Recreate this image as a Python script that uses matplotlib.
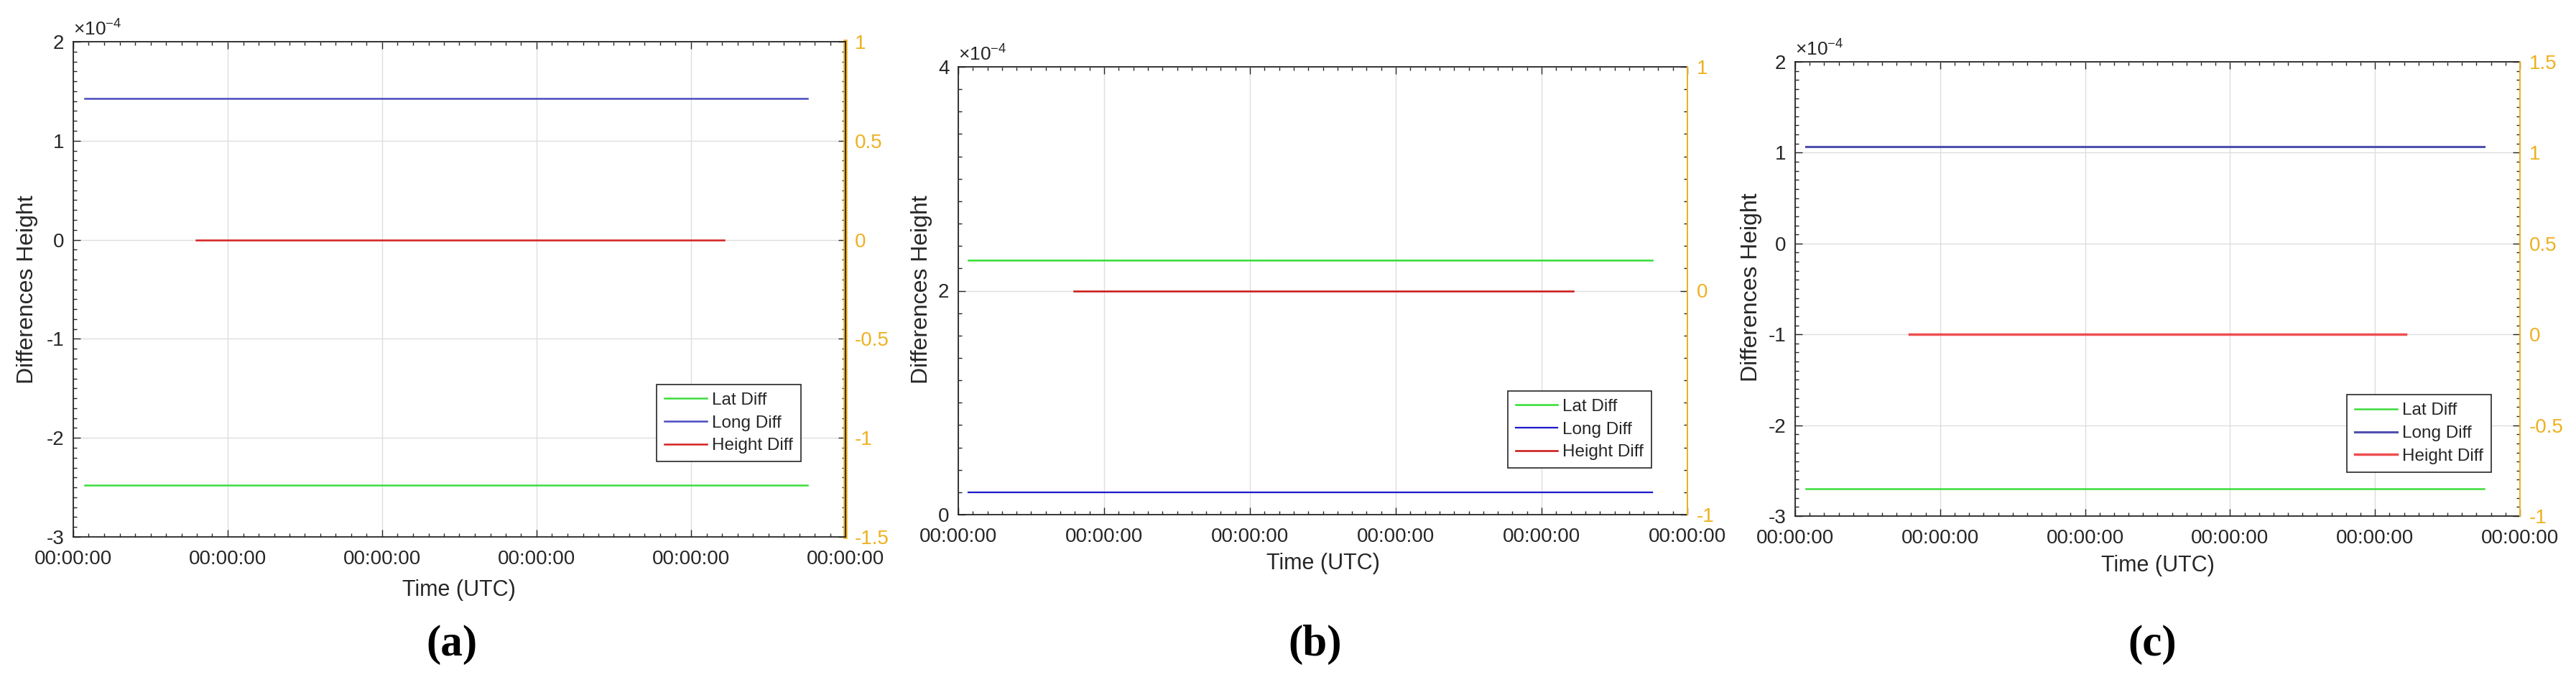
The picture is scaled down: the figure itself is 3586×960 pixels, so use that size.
import numpy as np
import matplotlib
matplotlib.use("Agg")
import matplotlib.pyplot as plt
from matplotlib.ticker import FixedLocator, MultipleLocator, FuncFormatter

plt.rcParams['font.family'] = ['Liberation Sans', 'DejaVu Sans']
plt.rcParams['mathtext.fontset'] = 'custom'
plt.rcParams['mathtext.rm'] = 'Liberation Sans'
plt.rcParams['mathtext.it'] = 'Liberation Sans'

# ---------------- data ----------------
time_ticks = [0, 1, 2, 3, 4, 5]
time_labels = ['00:00:00'] * 6
series_names = ['Lat Diff', 'Long Diff', 'Height Diff']
panel_labels = ['(a)', '(b)', '(c)']

# panel a
a_lat_x = [0.075, 4.754]; a_lat_y = [-2.48e-4, -2.48e-4]
a_long_x = [0.075, 4.754]; a_long_y = [1.43e-4, 1.43e-4]
a_hgt_x = [0.797, 4.213]; a_hgt_y = [0.0, 0.0]
# panel b
b_lat_x = [0.069, 4.758]; b_lat_y = [2.27e-4, 2.27e-4]
b_long_x = [0.069, 4.758]; b_long_y = [0.2e-4, 0.2e-4]
b_hgt_x = [0.791, 4.216]; b_hgt_y = [0.0, 0.0]
# panel c
c_lat_x = [0.073, 4.752]; c_lat_y = [-2.7e-4, -2.7e-4]
c_long_x = [0.073, 4.752]; c_long_y = [1.065e-4, 1.065e-4]
c_hgt_x = [0.789, 4.211]; c_hgt_y = [0.0, 0.0]

left_ticks_a = [-3, -2, -1, 0, 1, 2]
right_ticks_a = [-1.5, -1, -0.5, 0, 0.5, 1]
left_ticks_b = [0, 2, 4]
right_ticks_b = [-1, 0, 1]
left_ticks_c = [-3, -2, -1, 0, 1, 2]
right_ticks_c = [-1, -0.5, 0, 0.5, 1, 1.5]

# ---------------- layout (pixels) ----------------
W, H = 3587, 960
fig = plt.figure(figsize=(W / 100, H / 100), dpi=100)

panels = [
    dict(box=(102, 1177, 58, 747), lat=(a_lat_x, a_lat_y), lon=(a_long_x, a_long_y),
         hgt=(a_hgt_x, a_hgt_y), lt=left_ticks_a, rt=right_ticks_a, lminor=0.1,
         cols=('#3ddc3d', '#4a4ac0', '#d42020'), lws=(1.8, 1.8, 1.8), leg=(0.942, 0.152),
         ylab=(38, 403), xlab=(639, 821), plab=(629, 897), bold_right=True),
    dict(box=(1334, 2349, 93, 716), lat=(b_lat_x, b_lat_y), lon=(b_long_x, b_long_y),
         hgt=(b_hgt_x, b_hgt_y), lt=left_ticks_b, rt=right_ticks_b, lminor=0.2,
         cols=('#33dd33', '#1a1ac8', '#cc1515'), lws=(1.8, 1.6, 1.8), leg=(0.951, 0.104),
         ylab=(1283, 403), xlab=(1842, 784), plab=(1831, 897), bold_right=False),
    dict(box=(2499, 3508, 86, 718), lat=(c_lat_x, c_lat_y), lon=(c_long_x, c_long_y),
         hgt=(c_hgt_x, c_hgt_y), lt=left_ticks_c, rt=right_ticks_c, lminor=0.1,
         cols=('#3ddc3d', '#5050b0', '#ee4e4e'), lws=(1.8, 2.2, 2.5), leg=(0.960, 0.097),
         ylab=(2438, 400), xlab=(3004, 787), plab=(2996, 897), bold_right=False),
]

TXT = '#262626'
ORANGE = '#EDB120'

for i, p in enumerate(panels):
    x0, x1, y0, y1 = p['box']
    ax = fig.add_axes([x0 / W, (H - y1) / H, (x1 - x0) / W, (y1 - y0) / H])
    ax2 = ax.twinx()

    lt = np.array(p['lt'], dtype=float)
    ax.set_xlim(time_ticks[0], time_ticks[-1])
    ax.set_ylim(lt[0] * 1e-4, lt[-1] * 1e-4)
    ax.xaxis.set_major_locator(FixedLocator(time_ticks))
    ax.set_xticklabels(time_labels)
    ax.xaxis.set_minor_locator(MultipleLocator(0.1))
    ax.yaxis.set_major_locator(FixedLocator(lt * 1e-4))
    ax.yaxis.set_major_formatter(FuncFormatter(lambda v, pos: '%g' % round(v * 1e4, 6)))
    ax.yaxis.set_minor_locator(MultipleLocator(p['lminor'] * 1e-4))
    ax.tick_params(which='both', direction='in', top=True, right=True, color=TXT,
                   labelcolor=TXT, labelsize=20, width=1.0)
    ax.tick_params(which='major', length=7)
    ax.tick_params(which='minor', length=3.6)
    ax.tick_params(axis='x', pad=13)
    ax.tick_params(axis='y', pad=9)
    ax.grid(True, which='major', color='#dedede', lw=1.0)
    for s in ['left', 'bottom', 'top']:
        ax.spines[s].set_color(TXT)
        ax.spines[s].set_linewidth(1.3)

    rt = np.array(p['rt'], dtype=float)
    ax2.set_ylim(rt[0], rt[-1])
    ax2.yaxis.set_major_locator(FixedLocator(rt))
    ax2.yaxis.set_major_formatter(FuncFormatter(lambda v, pos: '%g' % v))
    ax2.tick_params(axis='y', which='both', length=0, labelcolor=ORANGE, labelsize=20, pad=9)
    for s in ['left', 'bottom', 'top']:
        ax2.spines[s].set_visible(False)
    if p['bold_right']:
        ax.spines['right'].set_color(ORANGE)
        ax.spines['right'].set_linewidth(4.0)
        ax2.spines['right'].set_color(TXT)
        ax2.spines['right'].set_linewidth(1.3)
    else:
        ax.spines['right'].set_visible(False)
        ax2.spines['right'].set_color(ORANGE)
        ax2.spines['right'].set_linewidth(1.4)

    c_lat, c_lon, c_hgt = p['cols']
    w_lat, w_lon, w_hgt = p['lws']
    l1, = ax.plot(p['lat'][0], p['lat'][1], color=c_lat, lw=w_lat)
    l2, = ax.plot(p['lon'][0], p['lon'][1], color=c_lon, lw=w_lon)
    l3, = ax2.plot(p['hgt'][0], p['hgt'][1], color=c_hgt, lw=w_hgt)

    leg = ax.legend([l1, l2, l3], series_names, loc='lower right',
                    bbox_to_anchor=p['leg'], fontsize=17.5, frameon=True, fancybox=False,
                    handlelength=2.4, handletextpad=0.3, borderpad=0.45, labelspacing=0.4,
                    borderaxespad=0.0)
    leg.get_frame().set_edgecolor(TXT)
    leg.get_frame().set_linewidth(1.2)
    leg.get_frame().set_alpha(1.0)
    for t in leg.get_texts():
        t.set_color(TXT)

    ax.annotate(r'$\times10^{-4}$', xy=(0, 1), xycoords='axes fraction',
                xytext=(0, 6), textcoords='offset points', ha='left', va='baseline',
                fontsize=19, color=TXT)

    yx, yy = p['ylab']
    fig.text(yx / W, (H - yy) / H, 'Differences Height', rotation=90, ha='center',
             va='center', fontsize=23, color=TXT)
    xx, xy = p['xlab']
    fig.text(xx / W, (H - xy) / H, 'Time (UTC)', ha='center', va='center',
             fontsize=22, color=TXT)
    px, py = p['plab']
    fig.text(px / W, (H - py) / H, panel_labels[i], ha='center', va='center',
             fontsize=44, fontweight='bold', family='Liberation Serif', color='black')

fig.savefig('out.png', dpi=100)
